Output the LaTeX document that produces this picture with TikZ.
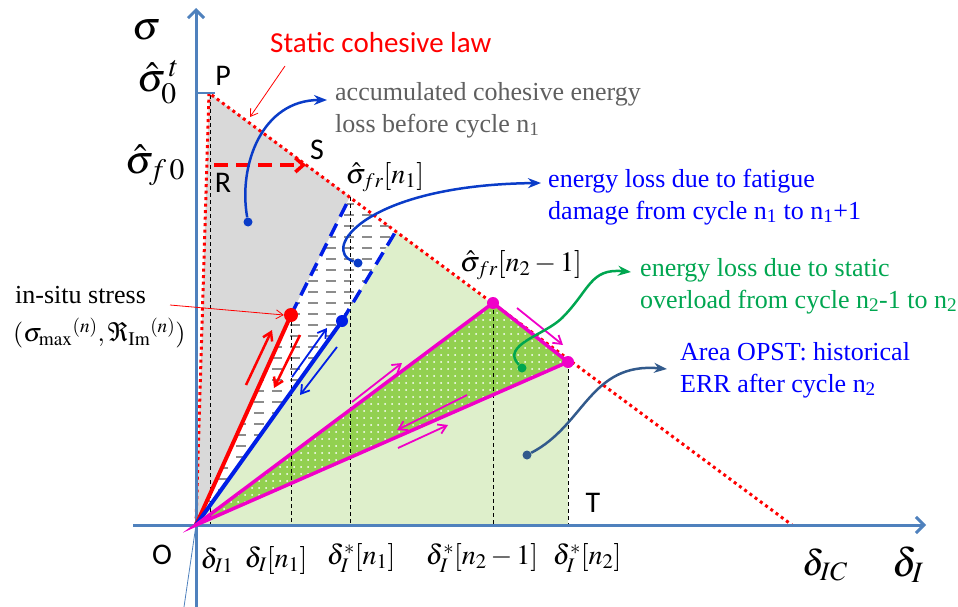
\documentclass[tikz,border=0pt]{standalone}
\usepackage{mathptmx}
\usepackage[no-math]{fontspec}
\setmainfont{Liberation Serif}
\newfontfamily\calibri{Carlito}
\usetikzlibrary{arrows.meta,patterns.meta}

\definecolor{bleuaxe}{RGB}{79,129,189}
\definecolor{grisfond}{RGB}{217,217,217}
\definecolor{vertclair}{RGB}{222,239,203}
\definecolor{vertfonce}{RGB}{146,208,80}
\definecolor{rose}{RGB}{240,0,200}
\definecolor{bleutrait}{RGB}{0,30,230}
\definecolor{bleucourbe}{RGB}{10,60,200}
\definecolor{verttexte}{RGB}{0,166,80}
\definecolor{ardoise}{RGB}{50,90,140}
\definecolor{gristexte}{RGB}{95,95,95}

\tikzdeclarepattern{
  name=pointsblancs,
  type=uncolored,
  bounding box={(-3.5pt,-3.5pt) and (3.5pt,3.5pt)},
  tile size={(7pt,7pt)},
  code={\fill (0pt,0pt) circle (1pt);}
}

\begin{document}
\begin{tikzpicture}[x=1pt, y=-1pt,
  axe/.style={draw=bleuaxe, line width=3pt, -{Straight Barb[length=8pt,width=16pt]}},
  loi/.style={draw=red, line width=3pt, dash pattern=on 3pt off 3.5pt},
  repere/.style={draw=black, line width=0.8pt, dash pattern=on 4pt off 3pt},
  fleche/.style={-{Straight Barb[length=8pt,width=10pt]}, line width=1.8pt},
  courbe/.style={-{Stealth[length=13pt,width=10pt]}, line width=2.5pt},
  pastille/.style={circle, fill, inner sep=0pt, minimum size=12pt},
  depart/.style={circle, fill, inner sep=0pt, minimum size=9pt},
  lettre/.style={font=\calibri\fontsize{30}{34}\selectfont, inner sep=0pt},
  texte/.style={font=\fontsize{26}{32}\selectfont, align=left, inner sep=0pt, anchor=base west},
  grand/.style={font=\fontsize{40}{48}\selectfont, inner sep=0pt},
  moyen/.style={font=\fontsize{28}{32}\selectfont, inner sep=0pt}
]
  \useasboundingbox (0,0) rectangle (958,607);

  % Les points
  \coordinate (O) at (196,525);
  \coordinate (P) at (209,93);
  \coordinate (C) at (792,525);
  \coordinate (A1) at (350,197);
  \coordinate (A2) at (396,231);
  \coordinate (B1) at (291,315);
  \coordinate (B2) at (342,321);
  \coordinate (Q1) at (493,303);
  \coordinate (Q2) at (568,362);
  \coordinate (T) at (568,525);

  % Les zones
  \fill[grisfond] (O) -- (P) -- (A1) -- (B1) -- cycle;
  \fill[vertclair] (O) -- (B2) -- (A2) -- (Q2) -- (T) -- cycle;
  \begin{scope}
    \clip (O) -- (B1) -- (A1) -- (A2) -- (B2) -- cycle;
    \fill[white] (O) -- (B1) -- (A1) -- (A2) -- (B2) -- cycle;
    \foreach \y in {204,215,...,525}
      \draw[gray!90, line width=1.6pt, dash pattern=on 10pt off 8pt] (200,\y) -- (400,\y);
  \end{scope}
  \fill[vertfonce] (O) -- (Q1) -- (Q2) -- cycle;
  \fill[pattern=pointsblancs, pattern color=white] (O) -- (Q1) -- (Q2) -- cycle;

  % Les reperes
  \draw[repere] (210,95) -- (210,525);
  \draw[repere] (B1) -- (B1 |- O);
  \draw[repere] (A1) -- (A1 |- O);
  \draw[repere] (Q1) -- (Q1 |- O);
  \draw[repere] (Q2) -- (T);

  % La loi cohesive
  \draw[loi] (O) -- (P) -- (C);

  % Les axes
  \draw[axe] (133,525) -- (926,525);
  \draw[axe] (196,607) -- (196,8);
  \draw[bleuaxe, line width=0.8pt] (184,607) -- (O);
  \draw[bleuaxe, line width=2pt] (P -| O) -- ++(19,0);

  % Les chemins
  \draw[red, line width=4pt] (O) -- (B1);
  \draw[bleutrait, line width=4pt] (O) -- (B2);
  \draw[bleutrait, line width=3.5pt, dash pattern=on 14pt off 8pt] (B1) -- (A1);
  \draw[bleutrait, line width=3.5pt, dash pattern=on 14pt off 8pt] (B2) -- (A2);
  \draw[rose, line width=3.5pt] (O) -- (Q1) -- (Q2) -- cycle;
  \draw[red, line width=3.5pt, dash pattern=on 14pt off 8pt, -{Straight Barb[length=8pt,width=14pt]}] (214,165) -- (306,165);

  \node[pastille, red, minimum size=14pt] (pB1) at (B1) {};
  \node[pastille, bleutrait] (pB2) at (B2) {};
  \node[pastille, rose] (pQ1) at (Q1) {};
  \node[pastille, rose] (pQ2) at (Q2) {};

  % Les petites fleches
  \draw[fleche, red, line width=2.5pt] (246,385) -- (272,330);
  \draw[fleche, red, line width=2.5pt] (300,335) -- (274,388);
  \draw[fleche, bleutrait] (292,377) -- (327,328);
  \draw[fleche, bleutrait] (337,347) -- (300,395);
  \draw[fleche, rose] (517,308) -- (563,345);
  \draw[fleche, rose] (352,402) -- (402,363);
  \draw[fleche, rose] (467,395) -- (397,430);
  \draw[fleche, rose] (398,448) -- (448,425);

  % Les lettres
  \node[grand] (sig) at (147,30) {$\sigma$};
  \node[grand] (sig0) at (158,82) {$\hat{\sigma}_0^{\,t}$};
  \node[grand] (sigf) at (155,165) {$\hat{\sigma}_{f\,0}$};
  \node[lettre] (lP) at (223,76) {P};
  \node[lettre] (lS) at (317,150) {S};
  \node[lettre] (lR) at (223,183) {R};
  \node[lettre] (lT) at (593,503) {T};
  \node[lettre] (lO) at (162,555) {O};
  \node[moyen] (sfr1) at (385,177) {$\hat{\sigma}_{fr}[n_1]$};
  \node[moyen] (sfr2) at (521,265) {$\hat{\sigma}_{fr}[n_2-1]$};
  \node[moyen] (d1) at (217,560) {$\delta_{I1}$};
  \node[moyen] (d2) at (276,560) {$\delta_I[n_1]$};
  \node[moyen] (d3) at (361,558) {$\delta_I^*[n_1]$};
  \node[moyen] (d4) at (482,558) {$\delta_I^*[n_2-1]$};
  \node[moyen] (d5) at (587,558) {$\delta_I^*[n_2]$};
  \node[font=\fontsize{36}{40}\selectfont, inner sep=0pt] (dIC) at (825,565) {$\delta_{IC}$};
  \node[grand] (dI) at (908,565) {$\delta_I$};

  % Les textes
  \node[texte, text=red, font=\calibri\fontsize{29}{32}\selectfont] (tloi) at (270,53) {Static cohesive law};
  \node[texte, text=gristexte] (taccu) at (335,132) {accumulated cohesive energy\\loss before cycle n\textsubscript{1}};
  \node[texte, text=blue] (tfat) at (548,219) {energy loss due to fatigue\\damage from cycle n\textsubscript{1} to n\textsubscript{1}+1};
  \node[texte, text=verttexte] (tsta) at (640,308) {energy loss due to static\\overload from cycle n\textsubscript{2}-1 to n\textsubscript{2}};
  \node[texte, text=blue] (taire) at (680,392) {Area OPST: historical\\ERR after cycle n\textsubscript{2}};
  \node[texte] (tsitu) at (15,303) {in-situ stress};
  \node[texte, anchor=west] (tmax) at (13,333) {$(\sigma_{\max}{}^{(n)},\Re_{\mathrm{Im}}{}^{(n)})$};

  % Les renvois
  \coordinate (r1) at (250,117);
  \draw[red, line width=0.8pt, -{Straight Barb[length=7pt,width=9pt]}] (285,66) -- (r1);
  \draw[red, line width=0.8pt, -{Straight Barb[length=7pt,width=9pt]}] (170,305) -- (pB1.west);

  \node[depart, bleucourbe] (c1) at (248,222) {};
  \coordinate (e1) at (327,100);
  \draw[courbe, bleucourbe] (c1) .. controls (238,165) and (262,100) .. (e1);

  \node[depart, bleucourbe] (c2) at (358,263) {};
  \coordinate (e2) at (541,183);
  \draw[courbe, bleucourbe] (c2) .. controls (320,250) and (365,185) .. (e2);

  \node[depart, verttexte] (c3) at (522,368) {};
  \coordinate (e3) at (631,272);
  \draw[courbe, verttexte] (c3) .. controls (500,345) and (545,335) .. (562,318) .. controls (590,290) and (590,268) .. (e3);

  \node[depart, ardoise] (c4) at (527,455) {};
  \coordinate (e4) at (667,369);
  \draw[courbe, ardoise] (c4) .. controls (585,425) and (590,362) .. (e4);
\end{tikzpicture}
\end{document}
